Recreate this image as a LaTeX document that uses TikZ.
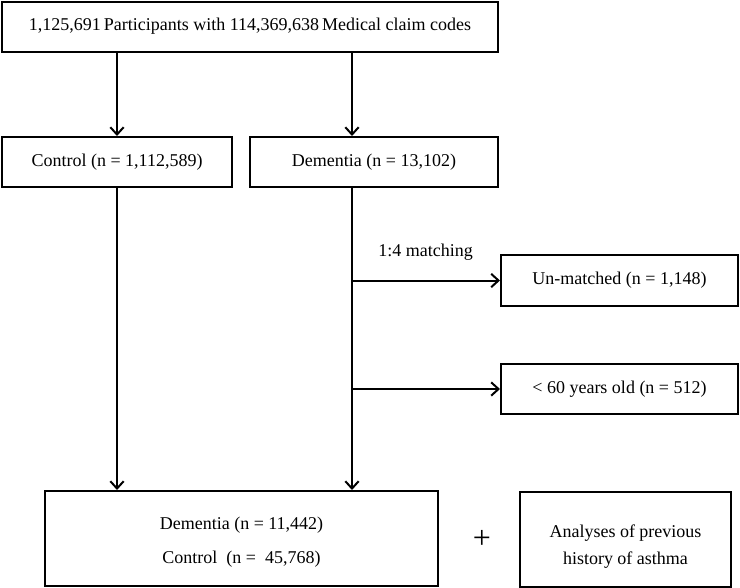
\documentclass[tikz,border=0pt]{standalone}
\usepackage{fontspec}
\setmainfont{Liberation Serif}
\usepackage{tikz}
\usetikzlibrary{arrows.meta,positioning}
\tikzset{%
	box/.style      = {draw, rectangle, line width=1.5pt, minimum height=37.5pt, text centered, inner sep=0pt},
	bigbox/.style   = {box, minimum height=71.25pt, align=center},
	label/.style    = {inner sep=0pt, anchor=west}, % text beside a line
	flow/.style     = {line width=1.5pt, -{Straight Barb[length=5.5pt,width=10pt,line width=1.5pt]}},
}

\begin{document}
\begin{tikzpicture}[x=0.75pt,y=-0.75pt,font=\fontsize{13.5}{16}\selectfont]
	\useasboundingbox (0,0) rectangle (740,587);

	\node [box, minimum width=372pt] (top) at (250,26.5) {1,125,691\,Participants with 114,369,638\,Medical claim codes};
	\node [box, minimum width=172.5pt] (ctrl) at (117,162) {Control (n = 1,112,589)};
	\node [box, minimum width=186pt] (dem) at (374,162) {Dementia (n = 13,102)};
	\node [box, minimum width=177.75pt, minimum height=38.25pt] (unm) at (619.5,280.5) {Un-matched (n = 1,148)};
	\node [box, minimum width=177.75pt] (young) at (619.5,389) {\textless{} 60 years old (n = 512)};
	\node [bigbox, minimum width=294.75pt] (final) at (241.5,538.5)
		{\rule{0pt}{15pt}Dementia (n = 11,442)\\[10pt] Control~ (n = ~45,768)};
	\node [bigbox, minimum width=158.25pt] (ana) at (625.5,539)
		{\rule{0pt}{21pt}Analyses of previous\\[4pt] history of asthma};
	\node (plus) at (482,539) {\fontsize{24}{24}\selectfont +};
	\node [label] (match) at (378,252) {1:4 matching};
	\coordinate (dline) at (352,0);

	\draw[flow] (top.south -| ctrl.north) -- (ctrl.north);
	\draw[flow] (top.south -| dline) -- (dem.north -| dline);
	\draw[flow] (ctrl.south) -- (final.north -| ctrl.south);
	\draw[flow] (dem.south -| dline) -- (final.north -| dline);
	\draw[flow] (unm.west -| dline) -- (unm.west);
	\draw[flow] (young.west -| dline) -- (young.west);
\end{tikzpicture}
\end{document}
